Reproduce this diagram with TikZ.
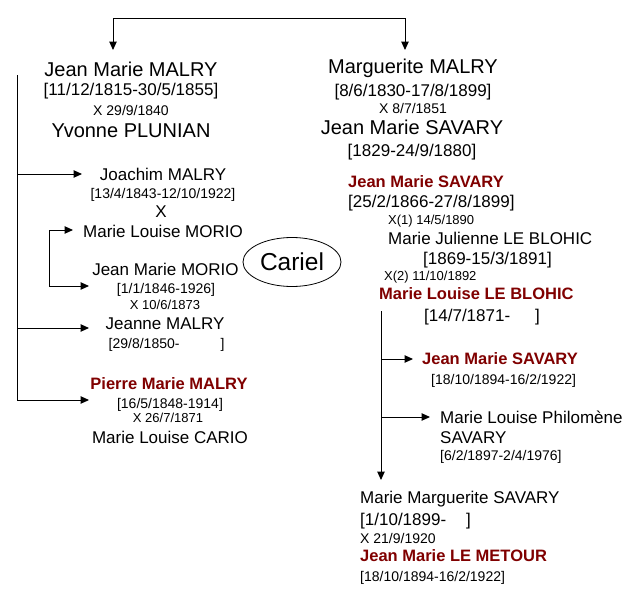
\documentclass[tikz,border=0pt]{standalone}
\usepackage{fontspec}
\setmainfont{Liberation Sans}
\usetikzlibrary{arrows.meta,shapes.geometric}
\definecolor{dred}{RGB}{128,0,0}
\begin{document}
\begin{tikzpicture}[x=1pt,y=-1pt,
  every node/.style={inner sep=0pt, text depth=0pt},
  big/.style={font=\fontsize{20}{24}\selectfont, text height=14.3pt},
  med/.style={font=\fontsize{17}{20}\selectfont, text height=12.2pt},
  sm/.style={font=\fontsize{14}{17}\selectfont, text height=10pt},
  xs/.style={font=\fontsize{13}{16}\selectfont, text height=9.3pt},
  xm/.style={font=\fontsize{14}{17}\selectfont, text height=10pt},
  heir/.style={font=\fontsize{16.5}{20}\selectfont\bfseries, text height=11.8pt, text=dred},
  link/.style={line width=1pt, -{Triangle[length=8.5pt,width=7.5pt]}},
  plain/.style={line width=1pt}]
\useasboundingbox[fill=white] (0,0) rectangle (641,595);

% top couple
\node[big] (jmm) at (131,69) {Jean Marie MALRY};
\node[med] (jmmd) at (131,89) {[11/12/1815-30/5/1855]};
\node[xm] (jmmx) at (131,110) {X 29/9/1840};
\node[big] (yp) at (131,130) {Yvonne PLUNIAN};

\node[big] (mm) at (413,66) {Marguerite MALRY};
\node[med] (mmd) at (413,90) {[8/6/1830-17/8/1899]};
\node[xm] (mmx) at (413,108) {X 8/7/1851};
\node[big] (jms) at (412,127) {Jean Marie SAVARY};
\node[med] (jmsd) at (412,150) {[1829-24/9/1880]};

% top connector
\coordinate (t1) at (113,50);
\coordinate (t2) at (405,50);
\draw[plain,{Triangle[length=8.5pt,width=7.5pt]}-{Triangle[length=8.5pt,width=7.5pt]}]
  (t1) -- (113,18) -- (405,18) -- (t2);

% left children
\node[med] (jo) at (163,174) {Joachim MALRY};
\node[sm] (jod) at (163,193) {[13/4/1843-12/10/1922]};
\node[med] (jox) at (161,211) {X};
\node[med] (mlm) at (163,231) {Marie Louise MORIO};
\node[med] (jmo) at (165.5,269) {Jean Marie MORIO};
\node[sm] (jmod) at (166,288) {[1/1/1846-1926]};
\node[xs] (jmox) at (165,305) {X 10/6/1873};
\node[med] (je) at (165,323) {Jeanne MALRY};
\node[sm, anchor=west] (jed) at (108.5,343) {[29/8/1850-\hspace{41pt}]};
\node[heir] (pm) at (169,384) {Pierre Marie MALRY};
\node[sm] (pmd) at (170,403) {[16/5/1848-1914]};
\node[xs] (pmx) at (168,418) {X 26/7/1871};
\node[med] (mlc) at (170,437) {Marie Louise CARIO};

\coordinate (l0) at (17,75);
\coordinate (l1) at (17,174);
\coordinate (l2) at (17,328);
\coordinate (l3) at (17,400);
\draw[plain] (l0) -- (l3);
\draw[link] (l1) -- (82,174);
\draw[link] (l2) -- (89,328);
\draw[link] (l3) -- (89,400);

\coordinate (b1) at (49,230);
\coordinate (b2) at (49,286);
\draw[link] (b1) -- (73,230);
\draw[link] (b1) -- (b2) -- (89,286);

% Cariel
\node[draw, ellipse, line width=0.8pt, minimum width=98pt, minimum height=49pt,
      font=\fontsize{24.5}{28}\selectfont] (cariel) at (292,262) {Cariel};

% right children
\node[heir, anchor=west] (js2) at (348,182) {Jean Marie SAVARY};
\node[med, anchor=west] (js2d) at (348,201) {[25/2/1866-27/8/1899]};
\node[xs, anchor=west] (x1) at (388,220) {X(1) 14/5/1890};
\node[med, anchor=west] (mjl) at (388,238) {Marie Julienne LE BLOHIC};
\node[med, anchor=west] (mjld) at (423,258) {[1869-15/3/1891]};
\node[xs, anchor=west] (x2) at (384,276) {X(2) 11/10/1892};
\node[heir, anchor=west] (mll) at (379,294) {Marie Louise LE BLOHIC};
\node[med, anchor=west] (mlld) at (424,315) {[14/7/1871-\hspace{25pt}]};

\node[heir, anchor=west] (js3) at (422,359) {Jean Marie SAVARY};
\node[sm, anchor=west] (js3d) at (431,379) {[18/10/1894-16/2/1922]};
\node[med, anchor=west] (mlp) at (440,417) {Marie Louise Philomène};
\node[med, anchor=west] (mlp2) at (440,437) {SAVARY};
\node[sm, anchor=west] (mlpd) at (440,455) {[6/2/1897-2/4/1976]};

\node[med, anchor=west] (mms) at (360,497) {Marie Marguerite SAVARY};
\node[med, anchor=west] (mmsd) at (360,519) {[1/10/1899-\hspace{20pt}]};
\node[xm, anchor=west] (mmsx) at (360,538) {X 21/9/1920};
\node[heir, anchor=west] (jlm) at (360,556) {Jean Marie LE METOUR};
\node[sm, anchor=west] (jlmd) at (360,576) {[18/10/1894-16/2/1922]};

\coordinate (r0) at (381,311);
\coordinate (r1) at (381,359);
\coordinate (r2) at (381,417);
\coordinate (r3) at (381,480);
\draw[link] (r0) -- (r3);
\draw[link] (r1) -- (413,359);
\draw[link] (r2) -- (430,417);
\end{tikzpicture}
\end{document}
